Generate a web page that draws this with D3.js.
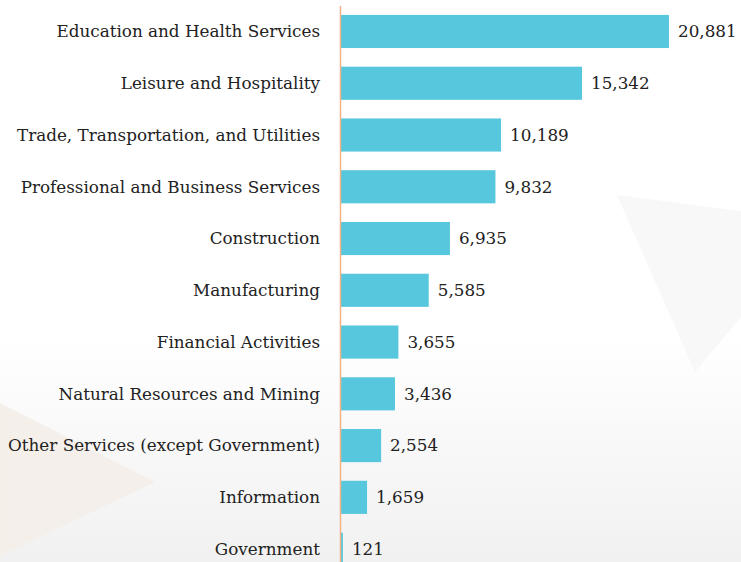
<!DOCTYPE html>
<html>
<head>
<meta charset="utf-8">
<script src="https://cdn.jsdelivr.net/npm/d3@7"></script>
<style>
  html, body { margin: 0; padding: 0; background: #fff; }
  svg { display: block; }
</style>
</head>
<body>
<div id="chart"></div>
<script>
const categories = [
  "Education and Health Services",
  "Leisure and Hospitality",
  "Trade, Transportation, and Utilities",
  "Professional and Business Services",
  "Construction",
  "Manufacturing",
  "Financial Activities",
  "Natural Resources and Mining",
  "Other Services (except Government)",
  "Information",
  "Government"
];
const values = [20881, 15342, 10189, 9832, 6935, 5585, 3655, 3436, 2554, 1659, 121];

const W = 741, H = 562;
const svg = d3.select("#chart").append("svg").attr("width", W).attr("height", H);

const defs = svg.append("defs");
const bg = defs.append("linearGradient").attr("id", "bg").attr("x1", 0).attr("y1", 0).attr("x2", 0).attr("y2", 1);
bg.append("stop").attr("offset", "0.6").attr("stop-color", "#ffffff");
bg.append("stop").attr("offset", "1").attr("stop-color", "#f1f1f1");
const tri = defs.append("linearGradient").attr("id", "tri").attr("x1", 0).attr("y1", 0).attr("x2", 1).attr("y2", 0);
tri.append("stop").attr("offset", "0").attr("stop-color", "#f5efea");
tri.append("stop").attr("offset", "1").attr("stop-color", "#f4efeb");

svg.append("rect").attr("width", W).attr("height", H).attr("fill", "url(#bg)");
svg.append("path").attr("d", "M0,403 L155,482 L0,556 Z").attr("fill", "url(#tri)");
svg.append("path").attr("d", "M617,195 L741,211 L741,317 L695,372 Z").attr("fill", "#f8f8f8");

const x0 = 341;
const x = d3.scaleLinear().domain([0, 20881]).range([x0, 669]);
const y = d3.scaleBand().domain(categories).range([5.6, 575]).paddingInner(0.36).paddingOuter(0.18);

const font = "'DejaVu Serif', serif";
const fs = 16.8;

svg.append("g").selectAll("rect").data(values).join("rect")
  .attr("x", x0)
  .attr("y", (d, i) => y(categories[i]))
  .attr("width", d => x(d) - x0)
  .attr("height", y.bandwidth())
  .attr("fill", "#57c7dd");

svg.append("line").attr("x1", 340.5).attr("x2", 340.5).attr("y1", 6).attr("y2", H)
  .attr("stroke", "#f4b183").attr("stroke-width", 1.5);

svg.append("g").selectAll("text").data(categories).join("text")
  .attr("x", 320)
  .attr("y", d => y(d) + y.bandwidth() / 2)
  .attr("dy", "0.35em")
  .attr("text-anchor", "end")
  .attr("font-family", font)
  .attr("font-size", fs)
  .attr("fill", "#222")
  .text(d => d);

const fmt = d3.format(",");
svg.append("g").selectAll("text").data(values).join("text")
  .attr("x", d => x(d) + 9)
  .attr("y", (d, i) => y(categories[i]) + y.bandwidth() / 2)
  .attr("dy", "0.35em")
  .attr("font-family", font)
  .attr("font-size", fs)
  .attr("fill", "#222")
  .text(d => fmt(d));
</script>
</body>
</html>
